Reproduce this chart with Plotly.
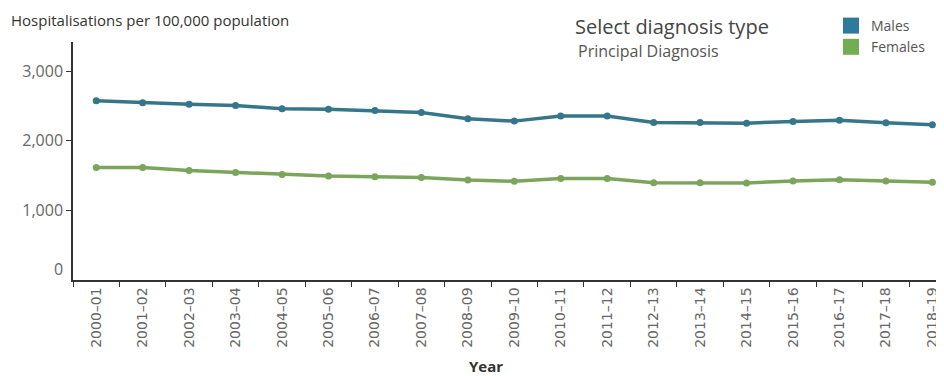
import plotly.graph_objects as go

years = ["2000–01", "2001–02", "2002–03", "2003–04", "2004–05", "2005–06", "2006–07",
         "2007–08", "2008–09", "2009–10", "2010–11", "2011–12", "2012–13", "2013–14",
         "2014–15", "2015–16", "2016–17", "2017–18", "2018–19"]
males = [2573, 2544, 2525, 2506, 2458, 2453, 2435, 2406, 2314, 2281, 2353, 2353,
         2262, 2262, 2252, 2276, 2295, 2256, 2228]
females = [1614, 1614, 1571, 1542, 1513, 1494, 1484, 1470, 1436, 1417, 1456, 1456,
           1398, 1398, 1393, 1422, 1441, 1422, 1403]
y_ticks = [1000, 2000, 3000]
y_tick_labels = ["1,000", "2,000", "3,000"]

male_line = "#36768A"
female_line = "#7BA45C"
male_sw = "#2E7A9C"
female_sw = "#72AD51"

# page body has an 8px margin: figure is 936x368 so it fills the 944x376 window
OFF = 8
L, T, R_EDGE, B_EDGE = 73, 42, 944, 280
PW, PH = R_EDGE - L, B_EDGE - T


def px(xp):
    return (xp - L) / PW


def py(yp):
    return (B_EDGE - yp) / PH


fig = go.Figure()
fig.add_trace(go.Scatter(x=years, y=males, mode="lines+markers", name="Males",
                         line=dict(color=male_line, width=3.5),
                         marker=dict(color=male_line, size=7), showlegend=False))
fig.add_trace(go.Scatter(x=years, y=females, mode="lines+markers", name="Females",
                         line=dict(color=female_line, width=3.5),
                         marker=dict(color=female_line, size=7), showlegend=False))
fig.add_trace(go.Scatter(x=[None], y=[None], mode="markers", name="Males",
                         marker=dict(symbol="square", size=17, color=male_sw)))
fig.add_trace(go.Scatter(x=[None], y=[None], mode="markers", name="Females",
                         marker=dict(symbol="square", size=17, color=female_sw)))

fig.update_layout(
    width=944 - OFF, height=376 - OFF,
    margin=dict(l=L - OFF, r=0, t=T - OFF, b=376 - B_EDGE, autoexpand=False),
    paper_bgcolor="white", plot_bgcolor="white",
    font=dict(family="Open Sans", color="#555555"),
    legend=dict(x=px(831), y=py(10), xanchor="left", yanchor="top",
                font=dict(size=14, color="#555555"), bgcolor="rgba(0,0,0,0)",
                itemclick=False, tracegroupgap=0),
    annotations=[
        dict(text="Hospitalisations per 100,000 population", xref="paper", yref="paper",
             x=px(10), y=py(8.5), xanchor="left", yanchor="top", borderpad=0,
             showarrow=False, font=dict(size=15, color="#333333", family="Open Sans")),
        dict(text="Select diagnosis type", xref="paper", yref="paper",
             x=px(573), y=py(26), xanchor="left", yanchor="middle",
             showarrow=False, font=dict(size=20, color="#444444", family="Open Sans")),
        dict(text="Principal Diagnosis", xref="paper", yref="paper",
             x=px(576), y=py(51), xanchor="left", yanchor="middle",
             showarrow=False, font=dict(size=16, color="#555555", family="Open Sans")),
        dict(text="<b>Year</b>", xref="paper", yref="paper",
             x=px(486), y=py(366), xanchor="center", yanchor="middle",
             showarrow=False, font=dict(size=15, color="#333333", family="Open Sans")),
        dict(text="0", xref="paper", yref="paper",
             x=0, xshift=-8, y=py(269), xanchor="right", yanchor="middle",
             showarrow=False, font=dict(size=16, color="#666666", family="Open Sans")),
    ],
)
fig.update_xaxes(type="category", range=[-0.5, 18.25], showgrid=False, automargin=False,
                 showline=True, linecolor="#333333", linewidth=1.5,
                 ticks="outside", tickson="boundaries", ticklen=5, tickcolor="#333333",
                 tickangle=-90, tickfont=dict(family="DejaVu Sans", size=14, color="#666666"),
                 fixedrange=True)
fig.update_yaxes(range=[0, 3417], showgrid=False, zeroline=False, automargin=False,
                 showline=True, linecolor="#333333", linewidth=1.5,
                 ticks="outside", ticklen=5, tickcolor="#333333",
                 tickvals=y_ticks, ticktext=y_tick_labels,
                 tickfont=dict(family="Open Sans", size=16, color="#666666"),
                 fixedrange=True)

fig.write_html("out.html")
